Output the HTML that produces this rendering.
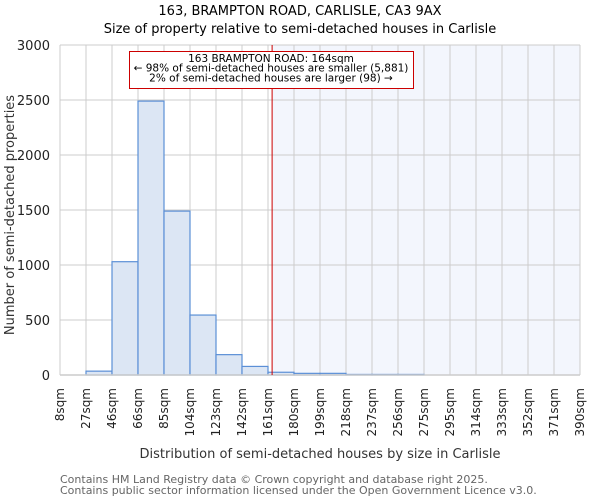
<!DOCTYPE html>
<html><head><meta charset="utf-8"><style>
body{margin:0;background:#fff}
svg{display:block;font-family:"DejaVu Sans","Liberation Sans",sans-serif}
</style></head><body>
<svg id="c" width="600" height="500" viewBox="0 0 600 500">
<text x="300" y="15" text-anchor="middle" font-size="13" fill="#000">163, BRAMPTON ROAD, CARLISLE, CA3 9AX</text>
<text x="300" y="33" text-anchor="middle" font-size="13" fill="#000">Size of property relative to semi-detached houses in Carlisle</text>
<g id="plot"></g>
<text transform="translate(14,215) rotate(-90)" text-anchor="middle" font-size="13" fill="#333">Number of semi-detached properties</text>
<text x="320" y="458" text-anchor="middle" font-size="13" fill="#333">Distribution of semi-detached houses by size in Carlisle</text>
<text x="60" y="483" font-size="11" fill="#666">Contains HM Land Registry data © Crown copyright and database right 2025.</text>
<text x="60" y="494" font-size="11" fill="#666">Contains public sector information licensed under the Open Government Licence v3.0.</text>
</svg>
<script>
const binEdges=[8,27,46,66,85,104,123,142,161,180,199,218,237,256,275,295,314,333,352,371,390];
const counts=[0,35,1030,2490,1490,545,185,78,25,15,15,5,5,5,0,0,0,0,0,0];
const yTicks=[0,500,1000,1500,2000,2500,3000];
const propertySize=164;
const NS="http://www.w3.org/2000/svg";
const L=60,R=580,T=45,B=375,yMax=3000,n=counts.length;
const xi=i=>L+(R-L)*i/n;
const xv=v=>{let i=0;while(i<n-1&&v>binEdges[i+1])i++;return xi(i)+(v-binEdges[i])/(binEdges[i+1]-binEdges[i])*(R-L)/n;};
const y=v=>B-(B-T)*v/yMax;
const g=document.getElementById('plot');
function mk(t,a,p){const e=document.createElementNS(NS,t);for(const k in a)e.setAttribute(k,a[k]);(p||g).appendChild(e);return e;}
const px=xv(propertySize);
const sh=mk('rect',{x:px,y:T,width:R-px,height:B-T,fill:'#f3f6fd'});


yTicks.forEach(v=>{
 const l=mk('line',{x1:L,x2:R,y1:y(v),y2:y(v),stroke:'#ccc','stroke-width':1});
 
 
 const t=mk('text',{x:L-10,y:y(v)+5,'text-anchor':'end','font-size':13,fill:'#222'});
 t.textContent=v;
 
 
});
binEdges.forEach((v,i)=>{
 const l=mk('line',{x1:xi(i),x2:xi(i),y1:T,y2:B,stroke:'#ccc','stroke-width':1});
 
 
 const t=mk('text',{transform:`translate(${xi(i)+4},388) rotate(-90)`,'text-anchor':'end','font-size':12,fill:'#222'});
 t.textContent=v+'sqm';
 
 
});
counts.forEach((c,i)=>{
 if(c<=0)return;
 const r=mk('rect',{x:xi(i),y:y(c),width:xi(i+1)-xi(i),height:B-y(c),fill:'#dce6f4',stroke:'#5b8fd6','stroke-width':1.2});
 
 
});
const ax=mk('line',{x1:L,x2:R,y1:B,y2:B,stroke:'#ccc','stroke-width':1.5});


const ml=mk('line',{x1:px,x2:px,y1:T,y2:B,stroke:'#c00','stroke-width':1});


const box=mk('rect',{x:129.5,y:51.5,width:284,height:37,fill:'#fff',stroke:'#c00','stroke-width':1});


['163 BRAMPTON ROAD: 164sqm','← 98% of semi-detached houses are smaller (5,881)','2% of semi-detached houses are larger (98) →'].forEach((s,k)=>{
 const t=mk('text',{x:271,y:62+k*9.7,'text-anchor':'middle','font-size':10.5,fill:'#000'});
 t.textContent=s;
 
 
});
</script>
</body></html>
